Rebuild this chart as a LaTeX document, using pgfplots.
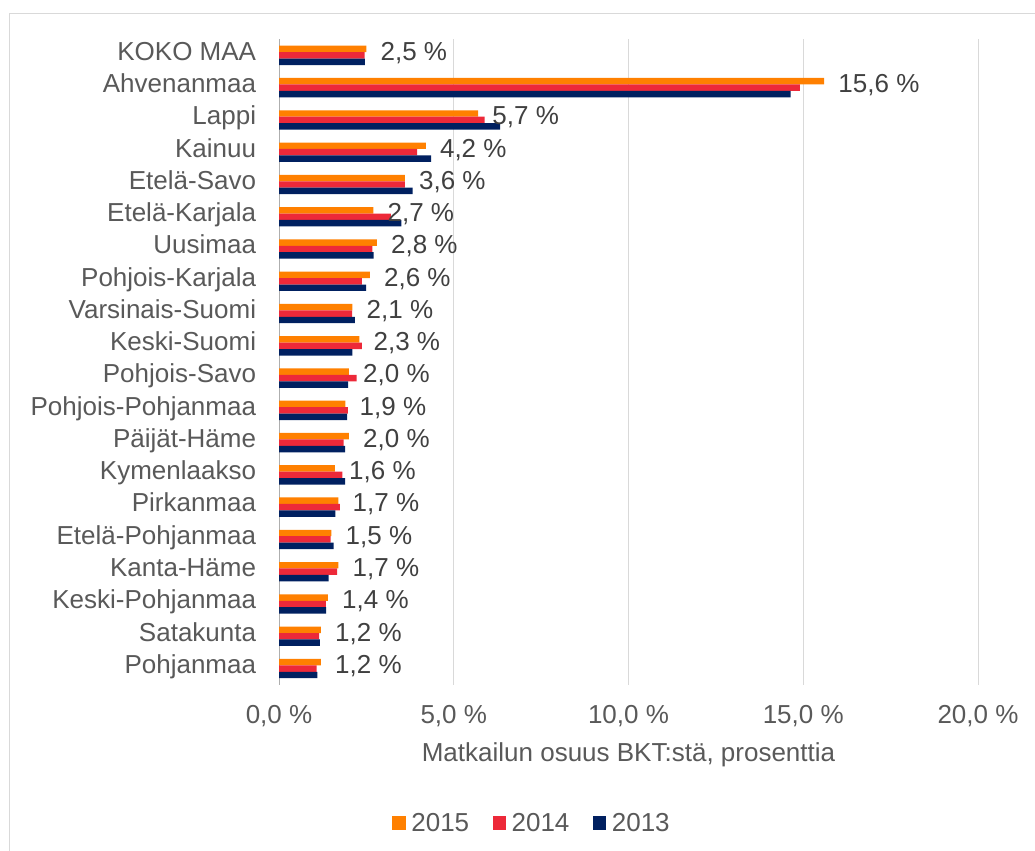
\documentclass[border=0pt]{standalone}
\usepackage{pgfplots}
\pgfplotsset{compat=1.18}
\usepackage{pgfplotstable}
\usepackage{fontspec}
\setmainfont{Liberation Sans}
\definecolor{cor}{HTML}{FF8000}
\definecolor{cre}{HTML}{ED2939}
\definecolor{cnv}{HTML}{002060}
\definecolor{txt}{HTML}{595959}
\definecolor{dtxt}{HTML}{404040}
\definecolor{gridc}{HTML}{D9D9D9}
\newcommand\ff{\fontsize{19.5}{23.4}\selectfont}

\pgfplotstableread{
y v
0 2.5
1 15.6
2 5.7
3 4.2
4 3.6
5 2.7
6 2.8
7 2.6
8 2.1
9 2.3
10 2.0
11 1.9
12 2.0
13 1.6
14 1.7
15 1.5
16 1.7
17 1.4
18 1.2
19 1.2
}\dataA
\pgfplotstableread{
y v
0 2.45
1 14.9
2 5.88
3 3.95
4 3.60
5 3.20
6 2.67
7 2.37
8 2.09
9 2.37
10 2.22
11 1.97
12 1.85
13 1.81
14 1.74
15 1.48
16 1.66
17 1.34
18 1.15
19 1.08
}\dataB
\pgfplotstableread{
y v
0 2.46
1 14.64
2 6.33
3 4.35
4 3.82
5 3.50
6 2.71
7 2.49
8 2.17
9 2.10
10 1.98
11 1.95
12 1.89
13 1.89
14 1.61
15 1.56
16 1.42
17 1.35
18 1.17
19 1.10
}\dataC

\begin{document}
\begin{tikzpicture}
\useasboundingbox (0pt,0pt) rectangle (776.25pt,-637.5pt);
\draw[gridc, line width=0.75pt] (780pt,-9.75pt) -- (6.75pt,-9.75pt) -- (6.75pt,-640pt);
\begin{axis}[
  at={(471.375pt,-271.46pt)}, anchor=center,
  width=524.25pt, height=484.05pt, scale only axis,
  xmin=0, xmax=20, ymin=-0.5, ymax=19.5, y dir=reverse,
  clip=false,
  axis lines*=left,
  axis line style={-},
  x axis line style={draw=none},
  y axis line style={draw=gridc!80!black, line width=0.75pt},
  xmajorgrids, major grid style={draw=gridc, line width=0.75pt},
  major tick length=0pt, tick style={draw=none},
  xtick={0,5,10,15,20},
  /pgf/number format/assume math mode=true,
  xticklabel={\pgfmathprintnumber[fixed,fixed zerofill,precision=1,use comma]{\tick}~\%},
  xticklabel style={font=\ff, text=txt, inner sep=0pt, anchor=north, text height=0.72em, text depth=0pt, yshift=-22pt},
  ytick={0,...,19},
  yticklabels={KOKO MAA, Ahvenanmaa, Lappi, Kainuu, Etelä-Savo, Etelä-Karjala, Uusimaa, Pohjois-Karjala, Varsinais-Suomi, Keski-Suomi, Pohjois-Savo, Pohjois-Pohjanmaa, Päijät-Häme, Kymenlaakso, Pirkanmaa, Etelä-Pohjanmaa, Kanta-Häme, Keski-Pohjanmaa, Satakunta, Pohjanmaa},
  yticklabel style={font=\ff, text=txt, inner sep=0pt, anchor=east, text height=0.72em, text depth=0pt, xshift=-17pt},
  xlabel={Matkailun osuus BKT:stä, prosenttia},
  xlabel style={at={(axis description cs:0.5,0)}, anchor=north, font=\ff, text=txt, inner sep=0pt, text height=0.72em, text depth=0pt, yshift=-50.5pt},
  legend columns=3,
  legend style={at={(axis description cs:0.3605,-0.2155)}, anchor=center, draw=none, fill=none, font=\ff, text=txt,
    nodes={inner sep=0pt, text height=0.72em, text depth=0pt},
    /tikz/every odd column/.append style={column sep=4.3pt},
    /tikz/every even column/.append style={column sep=17.5pt}},
  legend image code/.code={\fill[#1] (0pt,-2.2pt) rectangle (10pt,8.3pt);},
]
\addplot[xbar, bar width=0.2, bar shift=-0.2, fill=cor, draw=none,
  point meta=x,
  nodes near coords={\pgfmathprintnumber[fixed,fixed zerofill,precision=1,use comma]{\pgfplotspointmeta}~\%},
  nodes near coords style={font=\ff, text=dtxt, anchor=west, inner sep=0pt, text height=0.72em, text depth=0pt, xshift=10.5pt}]
  table[x=v, y=y] {\dataA};
\addlegendentry{2015}
\addplot[xbar, bar width=0.2, bar shift=0, fill=cre, draw=none] table[x=v, y=y] {\dataB};
\addlegendentry{2014}
\addplot[xbar, bar width=0.2, bar shift=0.2, fill=cnv, draw=none] table[x=v, y=y] {\dataC};
\addlegendentry{2013}
\end{axis}
\end{tikzpicture}
\end{document}
